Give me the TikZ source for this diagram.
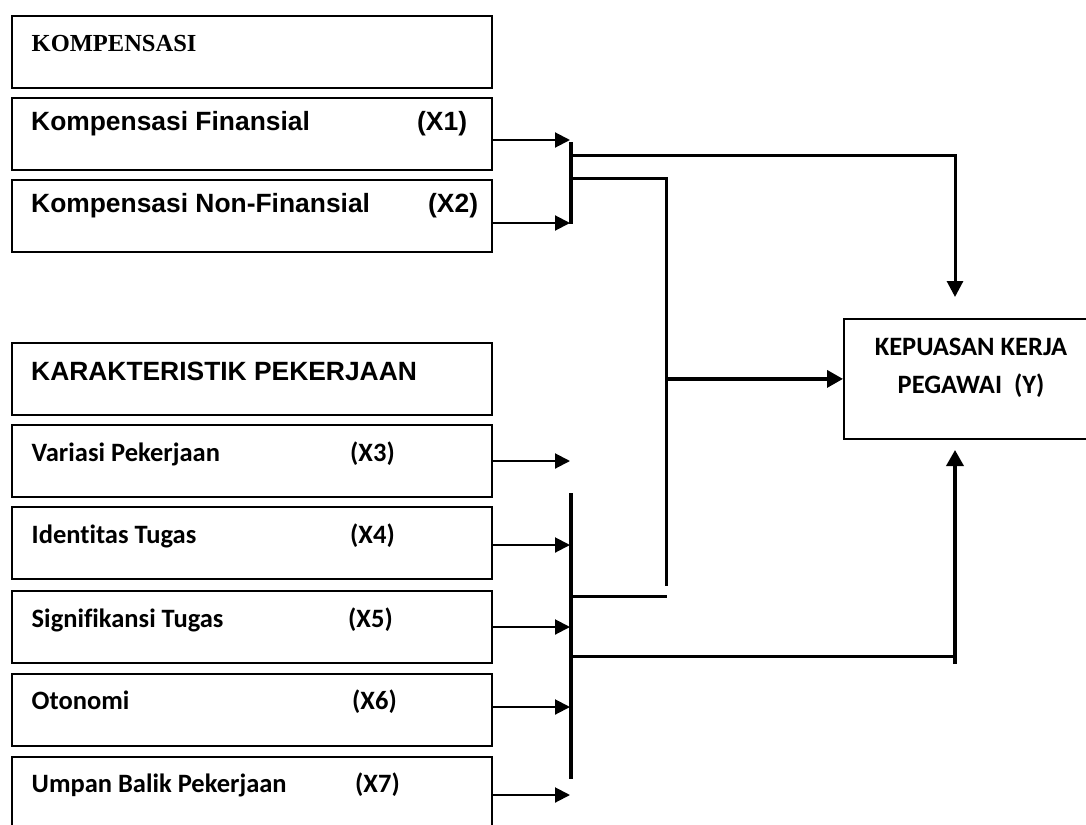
\documentclass[tikz,border=0pt]{standalone}
\usepackage{fontspec}
\usetikzlibrary{positioning,arrows.meta,calc}
\newfontfamily\arialfont{Liberation Sans}
\newfontfamily\calibrifont{Carlito}[Ligatures={NoCommon,NoRequired,NoContextual},RawFeature={-calt;-dlig}]
\newfontfamily\cambriafont{Liberation Serif}

\tikzset{
  varbox/.style={draw, line width=1.8pt, minimum width=480pt, minimum height=72pt, anchor=north west, inner sep=0pt},
  headtxt/.style={anchor=base west, inner sep=0pt, font=\cambriafont\bfseries\fontsize{24.5}{28}\selectfont},
  atxt/.style={anchor=base west, inner sep=0pt, font=\arialfont\bfseries\fontsize{26.4}{30}\selectfont},
  ctxt/.style={anchor=base west, inner sep=0pt, font=\calibrifont\bfseries\fontsize{26.5}{30}\selectfont},
  feed/.style={line width=2pt, -{Triangle[length=15pt,width=15pt]}},
  busline/.style={line width=3.5pt},
  mainarr/.style={line width=3.5pt, -{Triangle[length=16pt,width=17pt]}}
}

\begin{document}
\begin{tikzpicture}[x=1pt,y=-1pt]
        \clip (0,0) rectangle (1086,824);
        \fill[white] (0,0) rectangle (1086,824);
        % Draw compensation boxes
        \node[varbox] (komp) at (10.7,15) {};
        \node[varbox] (fin) at (10.7,97) {};
        \node[varbox] (nonfin) at (10.7,179) {};
        % Draw job characteristic boxes
        \node[varbox] (karak) at (10.7,342) {};
        \node[varbox] (variasi) at (10.7,424) {};
        \node[varbox] (identitas) at (10.7,506) {};
        \node[varbox] (signif) at (10.7,590) {};
        \node[varbox] (otonomi) at (10.7,673) {};
        \node[varbox] (umpan) at (10.7,756) {};
        % Draw satisfaction box
        \node[draw, line width=1.8pt, minimum width=256pt, minimum height=120pt, anchor=north west, inner sep=0pt] (kepuasan) at (843,318) {};
        % Label boxes
        \node[headtxt] (kompt) at (31.5,52) {KOMPENSASI};
        \node[atxt] (fint) at (31,130) {Kompensasi Finansial};
        \node[atxt] (finx) at (417,130) {(X1)};
        \node[atxt] (nonfint) at (31,212) {Kompensasi Non-Finansial};
        \node[atxt] (nonfinx) at (428,212) {(X2)};
        \node[atxt] (karakt) at (31,380) {KARAKTERISTIK PEKERJAAN};
        \node[ctxt] (variasit) at (31.5,461) {Variasi Pekerjaan};
        \node[ctxt] (variasix) at (350,461) {(X3)};
        \node[ctxt] (identitast) at (31.5,543) {Identitas Tugas};
        \node[ctxt] (identitasx) at (350,543) {(X4)};
        \node[ctxt] (signift) at (31.5,627) {Signifikansi Tugas};
        \node[ctxt] (signifx) at (348,627) {(X5)};
        \node[ctxt] (otonomit) at (31.5,709) {Otonomi};
        \node[ctxt] (otonomix) at (352,709) {(X6)};
        \node[ctxt] (umpant) at (31.5,792) {Umpan Balik Pekerjaan};
        \node[ctxt] (umpanx) at (355,792) {(X7)};
        \node[ctxt, anchor=base] (kepuasant) at (971,355) {KEPUASAN KERJA};
        \node[ctxt, anchor=base] (kepuasanx) at (971,393) {PEGAWAI\ \ (Y)};
        % Bus coordinates
        \coordinate (bus1top) at (571,142);
        \coordinate (bus1bot) at (571,223.5);
        \coordinate (bus2top) at (571,493);
        \coordinate (bus2bot) at (571,779);
        \coordinate (t1) at (570,140);
        \coordinate (t2) at (570,223);
        \coordinate (t3) at (570,461);
        \coordinate (t4) at (570,545);
        \coordinate (t5) at (570,627);
        \coordinate (t6) at (570,707);
        \coordinate (t7) at (570,795);
        \coordinate (downtip) at (955,297);
        \coordinate (uptip) at (955,450);
        % Draw feed arrows into the buses
        \draw[feed] (t1 -| fin.east) -- (t1);
        \draw[feed] (t2 -| nonfin.east) -- (t2);
        \draw[feed] (t3 -| variasi.east) -- (t3);
        \draw[feed] (t4 -| identitas.east) -- (t4);
        \draw[feed] (t5 -| signif.east) -- (t5);
        \draw[feed] (t6 -| otonomi.east) -- (t6);
        \draw[feed] (t7 -| umpan.east) -- (t7);
        % Draw buses
        \draw[busline] (bus1top) -- (bus1bot);
        \draw[busline] (bus2top) -- (bus2bot);
        % Draw lines towards Y
        \draw[line width=3pt, -{Triangle[length=16pt,width=16pt]}] (571,155) -| (downtip);
        \draw[line width=3pt] (571,178) -| (666,586);
        \draw[mainarr] (kepuasan.west -| 666,0) -- (kepuasan.west);
        \draw[line width=3pt] (571,596) -- (667,596);
        \draw[line width=3pt] (571,656) -- (955,656);
        \draw[mainarr] (955,664) -- (uptip);
    \end{tikzpicture}
\end{document}
